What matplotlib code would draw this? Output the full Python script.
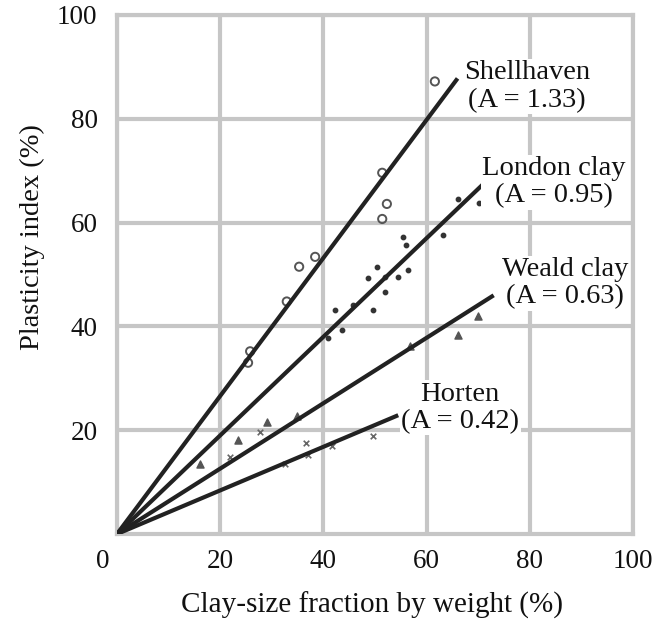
import numpy as np
import matplotlib
matplotlib.use("Agg")
import matplotlib.pyplot as plt
import matplotlib.transforms as mtrans

plt.rcParams['font.family'] = ['Liberation Serif', 'DejaVu Serif']

# activity lines: name, A, end of line on x axis
line_names = ["Shellhaven", "London clay", "Weald clay", "Horten"]
activity = [1.33, 0.95, 0.63, 0.42]
line_end_x = [66.0, 72.5, 73.0, 54.5]

shell_x = [61.6, 51.4, 52.3, 51.4, 38.4, 35.3, 32.9, 25.8, 25.4]
shell_y = [87.2, 69.6, 63.6, 60.7, 53.4, 51.5, 44.8, 35.2, 33.0]

london_x = [66.1, 70.2, 63.2, 55.4, 56.0, 50.4, 48.6, 51.9, 54.5, 56.4, 51.9, 49.6, 42.2, 45.7, 43.6, 40.9]
london_y = [64.6, 63.8, 57.7, 57.3, 55.6, 51.5, 49.4, 49.6, 49.6, 50.8, 46.7, 43.1, 43.1, 44.1, 39.3, 37.7]

weald_x = [16.1, 23.4, 29.1, 34.9, 56.8, 66.1, 70.0]
weald_y = [13.4, 18.2, 21.5, 22.8, 36.2, 38.3, 42.1]

horten_x = [21.9, 27.7, 32.6, 36.6, 37.0, 41.7, 49.6]
horten_y = [14.8, 19.7, 13.4, 17.6, 15.3, 17.0, 18.8]

# label anchor positions (data coords)
label_x = [79.5, 84.7, 86.8, 66.5]
label_y = [86.2, 67.8, 48.3, 24.3]

fig = plt.figure(figsize=(6.62, 6.26), dpi=100)
ax = fig.add_axes([117 / 662, 1 - 534 / 626, 516 / 662, 519 / 626])

grid_col = "#c6c6c6"
ax.set_xlim(0, 100)
ax.set_ylim(0, 100)
ax.set_xticks([0, 20, 40, 60, 80, 100])
ax.set_yticks([20, 40, 60, 80, 100])
ax.grid(True, color=grid_col, linewidth=3)
ax.set_axisbelow(True)
for s in ax.spines.values():
    s.set_color(grid_col)
    s.set_linewidth(3)
ax.tick_params(length=0, labelsize=19.5, colors="#111")
ax.tick_params(axis="x", pad=11)
ax.tick_params(axis="y", pad=14)

# the "0" sits a bit left of the corner in the original
lbl0 = ax.get_xticklabels()[0]
lbl0.set_transform(lbl0.get_transform() + mtrans.ScaledTranslation(-0.14, 0, fig.dpi_scale_trans))

pt_col = "#555"
ax.scatter(shell_x, shell_y, s=35, facecolors="none", edgecolors=pt_col, linewidths=1.4, zorder=3)
ax.scatter(london_x, london_y, s=10, color="#333", zorder=3)
ax.scatter(weald_x, weald_y, s=26, marker="^", color="#555", zorder=3)
ax.scatter(horten_x, horten_y, s=16, marker="x", color="#666", linewidths=1.2, zorder=3)

for name, a, xe, lx, ly in zip(line_names, activity, line_end_x, label_x, label_y):
    xs = np.array([0, xe])
    ax.plot(xs, a * xs, color="#222", linewidth=3, solid_capstyle="butt", zorder=4)
    ax.text(lx, ly, f"{name}\n(A = {a:.2f})", fontsize=20.5, ha="center", va="center",
            linespacing=1.12, color="#111", zorder=5,
            bbox=dict(facecolor="white", edgecolor="none", pad=1))

fig.text(372 / 662, 1 - 605 / 626, "Clay-size fraction by weight (%)", fontsize=21,
         ha="center", va="center", color="#111")
fig.text(32 / 662, 1 - 237 / 626, "Plasticity index (%)", fontsize=20.5, rotation=90,
         ha="center", va="center", color="#111")

fig.savefig("out.png", dpi=100)
